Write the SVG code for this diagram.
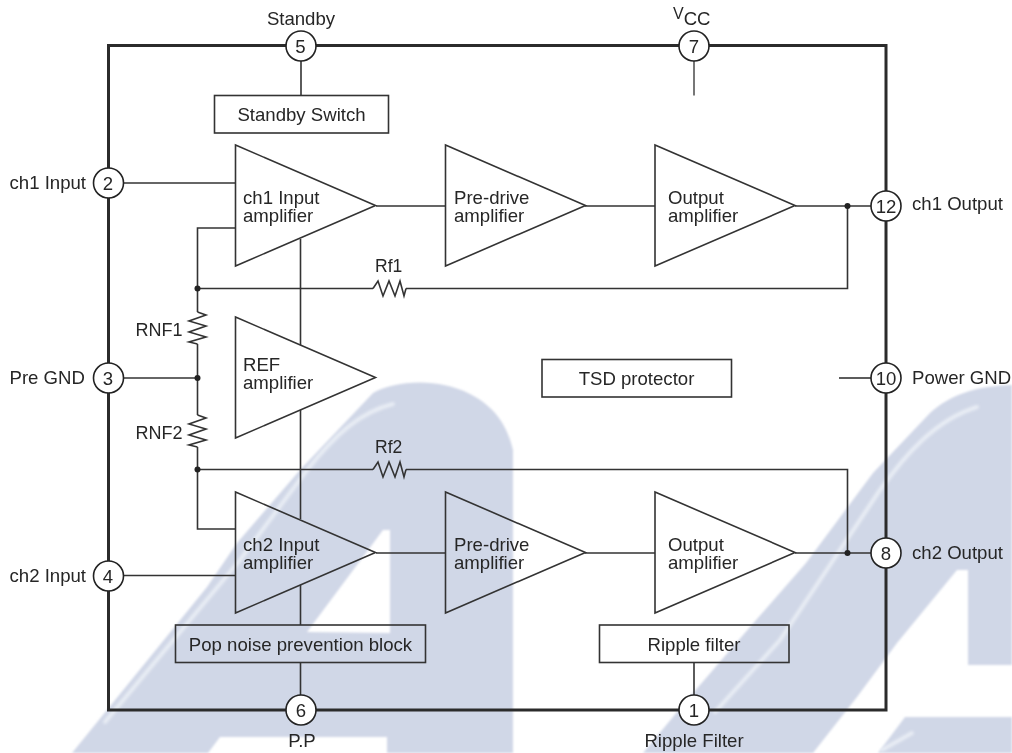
<svg xmlns="http://www.w3.org/2000/svg" width="1012" height="753" viewBox="0 0 1012 753">
<style>
text{font-family:"Liberation Sans",Arial,sans-serif;font-size:18.6px;fill:#262626}
.m{text-anchor:middle}
.w{fill:none;stroke:#333;stroke-width:1.6}
.c{fill:none;stroke:#333;stroke-width:1.6;stroke-linejoin:miter}
.p{fill:#fff;stroke:#222;stroke-width:1.6}
.d{fill:#222}
.hl{fill:none;stroke:#f4f6fb;stroke-linecap:round;stroke-width:4;opacity:.7}
</style>
<defs>
<filter id="soft" x="-5%" y="-5%" width="110%" height="110%"><feGaussianBlur stdDeviation="0.8"/></filter>
<filter id="soft2" x="-10%" y="-10%" width="120%" height="120%"><feGaussianBlur stdDeviation="1.6"/></filter>
<path id="rh" d="M0 0L5 -7.5L10 7.5L16 -7.5L22 7.5L27 -7.5L31 7.5L33 0"/>
<path id="rv" d="M0 0L8.500 3L-8.500 9L8.500 14L-8.500 20L8.500 25L-8.500 30L0 32"/>
<polygon id="tri" points="0,-60.500 0,60.500 140,0"/>
</defs>
<rect width="1012" height="753" fill="#fff"/>
<g id="watermark">
<path filter="url(#soft)" fill="#d0d7e7" fill-rule="evenodd" d="M72 753L207 587L237 543L300 470L373 393C392 382 435 376 470 394C495 407 507 425 513 450L513 753L387 753L387 737L220 737L208 753ZM307 632L383 530L390 530L390 633Z"/>
<path filter="url(#soft)" fill="#d0d7e7" d="M643 753L687 700L750 627L806 563L873 473L930 413C950 395 975 386 1012 385L1012 665L968 665L968 570L957 570L897 643L857 697L813 753Z"/>
<path filter="url(#soft)" fill="#d0d7e7" d="M878 753L905 717L1012 717L1012 753Z"/>
<g filter="url(#soft2)">
<path class="hl" d="M105 722L240 560L307 470C335 435 360 412 393 404"/>
<path class="hl" d="M715 712L780 640L880 490C905 455 935 420 977 407"/>
<path class="hl" d="M882 750L912 733"/>
</g>
</g>
<g id="chip"><rect x="108.500" y="45.500" width="777.500" height="664.500" fill="none" stroke="#2b2b2b" stroke-width="3"/></g>
<g id="connectors">
<path class="w" d="M301 61V95.500"/>
<path d="M694 61V95.500" fill="none" stroke="#555" stroke-width="1.600"/>
<path class="w" d="M124 183H235.500"/>
<path class="w" d="M376 206H445.500M585 206H655M795 206H871"/>
<path class="w" d="M376 553H445.500M585 553H655M795 553H871"/>
<path class="w" d="M235.500 228H197.500V312"/>
<path class="w" d="M197.500 344V415"/>
<path class="w" d="M197.500 447V529H235.500"/>
<path class="w" d="M124 378H197.500"/>
<path class="w" d="M124 575.500H235.500"/>
<path class="w" d="M197.500 288.500H373"/>
<path class="w" d="M406 288.500H847.500V206"/>
<path class="w" d="M197.500 469.500H373"/>
<path class="w" d="M406 469.500H847.500V553"/>
<path class="w" d="M839 378H871"/>
<path class="w" d="M300.500 239V345M300.500 410V519M300.500 585V625M300.500 662.500V695"/>
<path class="w" d="M694 662.500V695"/>
<use href="#rv" class="w" x="197.500" y="312"/>
<use href="#rv" class="w" x="197.500" y="415"/>
<use href="#rh" class="w" x="373" y="288.500"/>
<use href="#rh" class="w" x="373" y="469.500"/>
<circle class="d" cx="197.500" cy="288.500" r="3"/>
<circle class="d" cx="197.500" cy="378" r="3"/>
<circle class="d" cx="197.500" cy="469.500" r="3"/>
<circle class="d" cx="847.500" cy="206" r="3"/>
<circle class="d" cx="847.500" cy="553" r="3"/>
</g>
<g id="standby-switch"><rect class="c" x="214.500" y="95.500" width="174" height="37.500"/><text class="m" x="301.500" y="120.500">Standby Switch</text></g>
<g id="tsd"><rect class="c" x="542" y="359.500" width="189.500" height="37.500"/><text class="m" x="636.500" y="384.500">TSD protector</text></g>
<g id="pop-noise"><rect class="c" x="175.500" y="625" width="250" height="37.500"/><text class="m" x="300.500" y="650.500">Pop noise prevention block</text></g>
<g id="ripple-filter"><rect class="c" x="599.500" y="625" width="189.500" height="37.500"/><text class="m" x="694" y="650.500">Ripple filter</text></g>
<g id="amp-ch1-input"><use href="#tri" class="c" x="235.500" y="205.500"/><text x="243" y="203.500">ch1 Input</text><text x="243" y="222">amplifier</text></g>
<g id="amp-ch1-pre"><use href="#tri" class="c" x="445.500" y="205.500"/><text x="454" y="203.500">Pre-drive</text><text x="454" y="222">amplifier</text></g>
<g id="amp-ch1-out"><use href="#tri" class="c" x="655" y="205.500"/><text x="668" y="203.500">Output</text><text x="668" y="222">amplifier</text></g>
<g id="amp-ref"><use href="#tri" class="c" x="235.500" y="377.500"/><text x="243" y="370.500">REF</text><text x="243" y="389">amplifier</text></g>
<g id="amp-ch2-input"><use href="#tri" class="c" x="235.500" y="552.500"/><text x="243" y="550.500">ch2 Input</text><text x="243" y="569">amplifier</text></g>
<g id="amp-ch2-pre"><use href="#tri" class="c" x="445.500" y="552.500"/><text x="454" y="550.500">Pre-drive</text><text x="454" y="569">amplifier</text></g>
<g id="amp-ch2-out"><use href="#tri" class="c" x="655" y="552.500"/><text x="668" y="550.500">Output</text><text x="668" y="569">amplifier</text></g>
<g id="labels-r">
<text x="375" y="272" style="font-size:17.500px">Rf1</text>
<text x="375" y="453" style="font-size:17.500px">Rf2</text>
<text x="135.500" y="335.500" style="font-size:18px">RNF1</text>
<text x="135.500" y="438.500" style="font-size:18px">RNF2</text>
</g>
<g id="pin-5"><circle class="p" cx="301" cy="46" r="15"/><text class="m" x="300.500" y="52.500">5</text><text class="m" x="301" y="25">Standby</text></g>
<g id="pin-7"><circle class="p" cx="694" cy="46" r="15"/><text class="m" x="694" y="52.500">7</text><text x="673" y="18.500" style="font-size:16px">V<tspan dy="6.500" style="font-size:18.600px">CC</tspan></text></g>
<g id="pin-2"><circle class="p" cx="108.500" cy="183" r="15"/><text class="m" x="108" y="189.500">2</text><text x="9.500" y="188.500">ch1 Input</text></g>
<g id="pin-3"><circle class="p" cx="108.500" cy="378" r="15"/><text class="m" x="108" y="384.500">3</text><text x="9.500" y="383.500">Pre GND</text></g>
<g id="pin-4"><circle class="p" cx="108.500" cy="576" r="15"/><text class="m" x="108" y="582.500">4</text><text x="9.500" y="582">ch2 Input</text></g>
<g id="pin-6"><circle class="p" cx="301" cy="710" r="15"/><text class="m" x="301" y="716.500">6</text><text class="m" x="302" y="746.500">P.P</text></g>
<g id="pin-1"><circle class="p" cx="694" cy="710" r="15"/><text class="m" x="694" y="716.500">1</text><text class="m" x="694" y="746.500">Ripple Filter</text></g>
<g id="pin-12"><circle class="p" cx="886" cy="206" r="15"/><text class="m" x="886" y="212.500">12</text><text x="912" y="209.500">ch1 Output</text></g>
<g id="pin-10"><circle class="p" cx="886" cy="378" r="15"/><text class="m" x="886" y="384.500">10</text><text x="912" y="383.500">Power GND</text></g>
<g id="pin-8"><circle class="p" cx="886" cy="553" r="15"/><text class="m" x="886" y="559.500">8</text><text x="912" y="558.500">ch2 Output</text></g>
</svg>
